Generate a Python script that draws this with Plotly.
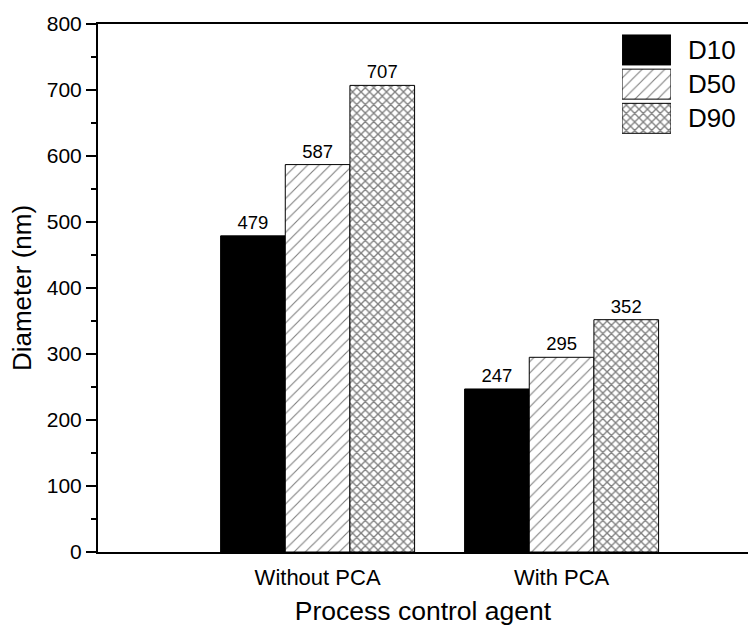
import plotly.graph_objects as go

categories = ["Without PCA", "With PCA"]
series_names = ["D10", "D50", "D90"]
d10_values = [479, 247]
d50_values = [587, 295]
d90_values = [707, 352]
y_ticks = [0, 100, 200, 300, 400, 500, 600, 700, 800]

FONT = "Liberation Sans, Arial, sans-serif"

styles = {
    "D10": dict(color="black", pattern=dict(shape="")),
    "D50": dict(color="white", pattern=dict(shape="/", fgcolor="black", bgcolor="white", size=8, solidity=0.14)),
    "D90": dict(color="white", pattern=dict(shape="x", fgcolor="black", bgcolor="white", size=6, solidity=0.4)),
}

fig = go.Figure()
for name, vals in zip(series_names, [d10_values, d50_values, d90_values]):
    st = styles[name]
    fig.add_trace(go.Bar(
        x=categories, y=vals, name=name,
        marker=dict(color=st["color"], pattern=st["pattern"], line=dict(color="black", width=1)),
        text=[str(v) for v in vals], textposition="outside",
        textfont=dict(size=18.5, color="black", family=FONT),
        cliponaxis=False, showlegend=False,
    ))
    # legend key drawn in an inset axis
    fig.add_trace(go.Bar(
        x=[1], y=[name], orientation="h", base=0, width=0.877,
        marker=dict(color=st["color"], pattern=st["pattern"], line=dict(color="black", width=1)),
        xaxis="x2", yaxis="y2", showlegend=False, hoverinfo="skip",
    ))
    fig.add_annotation(x=0.9046, xref="paper", y=name, yref="y2", text=name,
                       xanchor="left", yanchor="middle", showarrow=False,
                       font=dict(size=26, color="black", family=FONT))

fig.update_layout(
    width=748, height=628,
    margin=dict(l=98, r=0, t=24, b=76),
    paper_bgcolor="white", plot_bgcolor="white",
    barmode="group", bargap=0.205, bargroupgap=0,
    font=dict(family=FONT, color="black"),
    xaxis=dict(
        range=[-0.9, 1.764], showline=True, linecolor="black", linewidth=2, mirror=True,
        ticks="outside", ticklen=5, tickcolor="rgba(0,0,0,0)", showgrid=False, zeroline=False,
        tickfont=dict(size=22, color="black"),
        title=dict(text="Process control agent", font=dict(size=26.5, color="black"), standoff=12),
    ),
    yaxis=dict(
        range=[0, 800], tickvals=y_ticks, showline=True, linecolor="black", linewidth=2,
        ticks="outside", ticklen=10, tickwidth=2, tickcolor="black", showgrid=False, zeroline=False,
        tickfont=dict(size=21, color="black"),
        minor=dict(dtick=50, ticks="outside", ticklen=5, tickwidth=2, tickcolor="black", showgrid=False),
        title=dict(text="Diameter (nm)", font=dict(size=26, color="black"), standoff=8),
    ),
    xaxis2=dict(domain=[0.8062, 0.8815], range=[0, 1], anchor="y2", visible=False, fixedrange=True),
    yaxis2=dict(domain=[0.789, 0.9832], anchor="x2", visible=False, type="category",
                categoryorder="array", categoryarray=series_names[::-1], range=[-0.5, 2.5]),
)

fig.write_html("out.html")
